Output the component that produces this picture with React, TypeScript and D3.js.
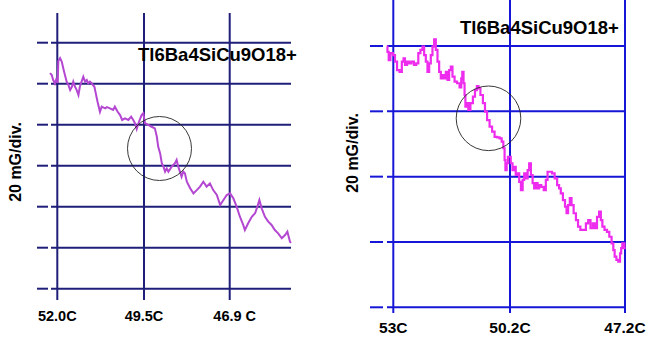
import React from "react";
import * as d3 from "d3";

// ---------- Left panel data ----------
const leftTempTicks = [52.0, 49.5, 46.9];
const leftTickLabels = ["52.0C", "49.5C", "46.9 C"];
const leftGridValues = [0, 20, 40, 60, 80, 100, 120];
const leftTemp = [
  52.21, 52.16, 52.12, 52.07, 52.02, 51.99, 51.97, 51.92, 51.87, 51.83,
  51.78, 51.73, 51.68, 51.63, 51.58, 51.54, 51.49, 51.44, 51.39, 51.35,
  51.3, 51.25, 51.2, 51.15, 51.11, 51.06, 51.01, 50.93, 50.89, 50.84,
  50.77, 50.72, 50.62, 50.57, 50.48, 50.39, 50.34, 50.26, 50.19, 50.13,
  50.05, 49.95, 49.87, 49.81, 49.76, 49.71, 49.66, 49.57, 49.52, 49.47,
  49.37, 49.27, 49.17, 49.11, 49.07, 49.01, 48.96, 48.91, 48.86, 48.81,
  48.76, 48.66, 48.56, 48.51, 48.46, 48.41, 48.36, 48.31, 48.26, 48.2,
  48.1, 48.0, 47.9, 47.8, 47.7, 47.6, 47.5, 47.4, 47.29, 47.19,
  47.09, 46.99, 46.89, 46.79, 46.69, 46.59, 46.49, 46.44, 46.34, 46.23,
  46.13, 46.06, 46.0, 45.93, 45.83, 45.73, 45.63, 45.53, 45.43, 45.32,
  45.22, 45.15, 45.07, 45.04,
];
const leftSignal = [
  105.2, 104.2, 101.8, 100.1, 102.8, 100.3, 111.1, 112.5, 110.7, 107.7,
  104.2, 101.0, 99.4, 96.9, 98.5, 101.0, 98.5, 96.9, 94.5, 98.5,
  101.0, 103.4, 101.0, 101.8, 100.2, 101.0, 100.2, 98.5, 95.3, 91.2,
  86.3, 88.8, 88.0, 88.6, 88.0, 87.2, 88.8, 86.3, 84.7, 82.3,
  83.1, 82.3, 83.9, 82.3, 80.7, 77.9, 80.7, 84.7, 85.6, 80.7,
  79.9, 79.0, 78.2, 74.1, 69.3, 66.0, 61.2, 59.5, 57.1, 58.7,
  57.1, 59.5, 61.2, 62.8, 59.5, 57.1, 54.6, 57.1, 56.3, 52.2,
  49.0, 46.5, 48.1, 49.8, 52.2, 49.8, 51.4, 48.1, 45.7, 40.8,
  43.3, 45.7, 46.5, 44.1, 40.0, 35.1, 31.1, 28.6, 31.9, 35.1,
  36.8, 40.0, 43.3, 39.2, 35.1, 32.7, 31.1, 28.6, 27.0, 24.6,
  26.2, 27.8, 22.9, 22.3,
];

// ---------- Right panel data ----------
const rightTempTicks = [53, 50.2, 47.2];
const rightTickLabels = ["53C", "50.2C", "47.2C"];
const rightGridValues = [0, 20, 40, 60, 80];
const rightTemp = [
  53.16, 53.12, 53.1, 53.04, 52.98, 52.94, 52.88, 52.82, 52.77, 52.74,
  52.7, 52.64, 52.6, 52.53, 52.48, 52.42, 52.38, 52.32, 52.28, 52.24,
  52.2, 52.16, 52.12, 52.08, 52.04, 52.0, 51.96, 51.92, 51.88, 51.84,
  51.8, 51.76, 51.72, 51.68, 51.64, 51.6, 51.56, 51.5, 51.44, 51.38,
  51.36, 51.33, 51.3, 51.28, 51.26, 51.22, 51.18, 51.12, 51.06, 51.02,
  50.97, 50.94, 50.88, 50.82, 50.78, 50.72, 50.66, 50.6, 50.54, 50.48,
  50.42, 50.38, 50.34, 50.32, 50.3, 50.26, 50.24, 50.2, 50.16, 50.11,
  50.07, 50.03, 49.98, 49.94, 49.89, 49.85, 49.81, 49.76, 49.72, 49.68,
  49.63, 49.59, 49.55, 49.5, 49.46, 49.42, 49.35, 49.29, 49.24, 49.2,
  49.14, 49.07, 49.0, 48.94, 48.9, 48.85, 48.79, 48.74, 48.71, 48.66,
  48.62, 48.57, 48.51, 48.45, 48.4, 48.33, 48.25, 48.19, 48.13, 48.07,
  48.01, 47.96, 47.9, 47.85, 47.81, 47.77, 47.7, 47.64, 47.58, 47.52,
  47.49, 47.45, 47.4, 47.35, 47.31, 47.29, 47.25, 47.18,
];
const rightSignal = [
  79.8, 78.2, 75.7, 77.8, 77.2, 75.2, 72.6, 72.1, 75.2, 76.2,
  74.2, 75.2, 74.7, 75.2, 74.2, 74.7, 77.8, 78.8, 79.8, 77.2,
  75.2, 72.1, 74.7, 77.2, 79.8, 82.0, 78.8, 75.2, 72.1, 70.1,
  71.1, 70.1, 72.1, 69.6, 72.6, 73.7, 70.6, 69.1, 68.6, 67.3,
  70.1, 72.1, 68.6, 65.0, 61.4, 62.5, 60.4, 62.5, 64.5, 66.5,
  67.7, 67.0, 65.0, 62.5, 59.9, 57.3, 55.3, 53.8, 52.2, 52.0,
  51.7, 50.7, 48.7, 45.1, 42.0, 44.1, 46.1, 46.1, 44.1, 42.0,
  43.0, 40.5, 41.0, 38.4, 35.9, 39.0, 41.0, 39.5, 42.0, 44.1,
  40.5, 38.0, 36.4, 38.0, 36.4, 37.4, 36.9, 35.9, 39.0, 41.5,
  41.5, 41.0, 39.5, 37.4, 36.4, 34.9, 32.8, 30.8, 28.8, 31.3,
  33.4, 31.3, 28.8, 26.7, 24.7, 23.7, 23.7, 25.7, 26.7, 24.2,
  25.7, 24.2, 27.7, 29.3, 26.7, 24.7, 23.7, 23.1, 21.6, 19.6,
  17.5, 15.5, 14.5, 14.0, 16.5, 18.1, 19.6, 18.1,
];

const title = "Tl6Ba4SiCu9O18+";
const yLabel = "20 mG/div.";

const W = 667;
const H = 341;

export default function App() {
  // Left scales
  const xL = d3.scaleLinear().domain(leftTempTicks).range([57.3, 144, 229.7]);
  const yL = d3.scaleLinear().domain([0, 120]).range([288.7, 42.7]);
  // Right scales
  const xR = d3.scaleLinear().domain(rightTempTicks).range([393.3, 510, 625]);
  const yR = d3.scaleLinear().domain([0, 80]).range([307.3, 46]);

  const leftPts: [number, number][] = leftTemp.map((t, i) => [t, leftSignal[i]]);
  const rightPts: [number, number][] = rightTemp.map((t, i) => [t, rightSignal[i]]);

  const lineL = d3
    .line<[number, number]>()
    .x((d) => xL(d[0]))
    .y((d) => yL(d[1]))
    .curve(d3.curveLinear);
  const lineR = d3
    .line<[number, number]>()
    .x((d) => xR(d[0]))
    .y((d) => yR(d[1]))
    .curve(d3.curveStep);

  const navy = "#1f1f7a";
  const blue = "#1616d6";
  const font = "Liberation Sans, Arial, sans-serif";

  return (
    <svg
      width={W}
      height={H}
      style={{ position: "absolute", left: 0, top: 0, background: "#fff" }}
      fontFamily={font}
    >
      <rect x={0} y={0} width={W} height={H} fill="#fff" />
      {/* ---------- Left panel ---------- */}
      <g>
        {leftGridValues.map((v) => (
          <g key={"lh" + v}>
            <line x1={37} x2={48} y1={yL(v)} y2={yL(v)} stroke={navy} strokeWidth={2} />
            <line x1={51} x2={291} y1={yL(v)} y2={yL(v)} stroke={navy} strokeWidth={2} />
          </g>
        ))}
        {leftTempTicks.map((t) => (
          <line key={"lv" + t} x1={xL(t)} x2={xL(t)} y1={13} y2={300} stroke={navy} strokeWidth={2} />
        ))}
        <path d={lineL(leftPts) || ""} fill="none" stroke="#b447d2" strokeWidth={2} strokeLinejoin="miter" />
        <circle cx={159.5} cy={148.5} r={32} fill="none" stroke="#222" strokeWidth={0.9} />
        <text x={138} y={60.5} fontSize={18.5} fontWeight="bold" fill="#000">
          {title}
        </text>
        <text
          transform={`translate(20.5,162) rotate(-90)`}
          textAnchor="middle"
          fontSize={16}
          fontWeight="bold"
          fill="#000"
        >
          {yLabel}
        </text>
        {leftTempTicks.map((t, i) => (
          <text
            key={"lt" + t}
            x={xL(t)}
            dx={i === 2 ? 5 : 0}
            y={320.5}
            textAnchor="middle"
            fontSize={14.5}
            fontWeight="bold"
            fill="#000"
          >
            {leftTickLabels[i]}
          </text>
        ))}
      </g>

      {/* ---------- Right panel ---------- */}
      <g>
        {rightGridValues.map((v) => (
          <g key={"rh" + v}>
            <line x1={370} x2={383} y1={yR(v)} y2={yR(v)} stroke={blue} strokeWidth={2} />
            <line x1={387} x2={626} y1={yR(v)} y2={yR(v)} stroke={blue} strokeWidth={2} />
          </g>
        ))}
        {rightTempTicks.map((t) => (
          <line key={"rv" + t} x1={xR(t)} x2={xR(t)} y1={0} y2={313} stroke={blue} strokeWidth={2} />
        ))}
        <path d={lineR(rightPts) || ""} fill="none" stroke="#ee2cee" strokeWidth={2.2} />
        <circle cx={488.5} cy={118.3} r={32.3} fill="none" stroke="#222" strokeWidth={0.9} />
        <text x={460} y={33.5} fontSize={18.5} fontWeight="bold" fill="#000">
          {title}
        </text>
        <text
          transform={`translate(358,153) rotate(-90)`}
          textAnchor="middle"
          fontSize={16}
          fontWeight="bold"
          fill="#000"
        >
          {yLabel}
        </text>
        {rightTempTicks.map((t, i) => (
          <text
            key={"rt" + t}
            x={xR(t)}
            y={333}
            textAnchor="middle"
            fontSize={15.5}
            fontWeight="bold"
            fill="#000"
          >
            {rightTickLabels[i]}
          </text>
        ))}
      </g>
    </svg>
  );
}
